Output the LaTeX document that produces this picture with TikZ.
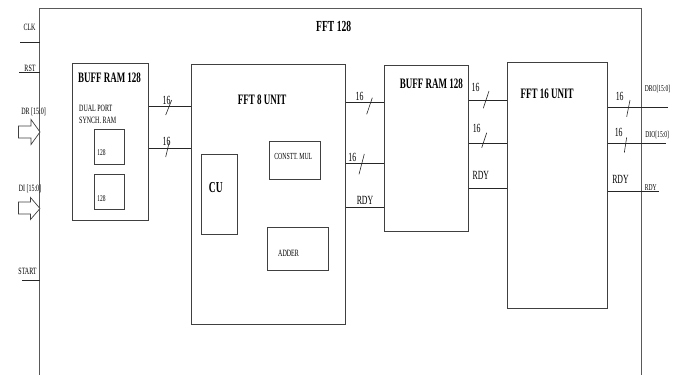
\documentclass[tikz,border=0pt]{standalone}
\usepackage{fontspec}
\setmainfont{Liberation Serif}
\usepackage{graphicx}
\newcommand{\stx}[1]{\scalebox{1}[1.6]{#1}}
\begin{document}
\begin{tikzpicture}[x=1pt,y=-1pt,
  box/.style={draw=black!75, line width=0.9pt, inner sep=0pt, anchor=north west},
  wire/.style={draw=black!85, line width=0.9pt},
  tick/.style={draw=black!85, line width=0.6pt},
  lbl/.style={inner sep=0pt, font=\fontsize{6}{7}\selectfont},
  sig/.style={inner sep=0pt, font=\fontsize{7.8}{9}\selectfont},
  ttl/.style={inner sep=0pt, font=\fontsize{9}{10}\selectfont\bfseries},
  blockarrow/.style={draw=black!75, line width=0.7pt, fill=white}]
\useasboundingbox (0,0) rectangle (678,375);
% outer frame
\coordinate (oBL) at (39.5,375);
\coordinate (oTL) at (39.5,8);
\coordinate (oTR) at (641.5,8);
\coordinate (oBR) at (641.5,375);
\draw[draw=black!65, line width=1pt] (oBL) -- (oTL) -- (oTR) -- (oBR);
\node[ttl, font=\fontsize{9.6}{10}\selectfont\bfseries] (t128) at (333.7,26.7) {\stx{FFT 128}};
% inputs
\node[lbl] (clk) at (29.5,27.3) {\stx{CLK}};
\coordinate (clkL) at (20,42.7);
\draw[wire] (clkL) -- (oTL |- clkL);
\node[lbl] (rst) at (30,68.3) {\stx{RST}};
\coordinate (rstL) at (19,72.7);
\draw[wire] (rstL) -- (oTL |- rstL);
\node[lbl] (dr) at (33.5,111.5) {\stx{DR [15:0]}};
\draw[blockarrow] (18.5,126) -- (31,126) -- (31,119.5) -- (40,132) -- (31,144.5) -- (31,138) -- (18.5,138) -- cycle;
\node[lbl] (di) at (30,189.3) {\stx{DI [15:0]}};
\draw[blockarrow] (18.5,202) -- (30.5,202) -- (30.5,197.5) -- (40,208.5) -- (30.5,219.5) -- (30.5,214) -- (18.5,214) -- cycle;
\node[lbl] (start) at (27.5,271) {\stx{START}};
\coordinate (startL) at (22,280);
\draw[wire] (startL) -- (oTL |- startL);
% BUFF RAM 1
\node[box, minimum width=76.6pt, minimum height=156.7pt] (buff1) at (71.7,63.3) {};
\node[ttl] (buff1t) at (109.5,77.5) {\stx{BUFF RAM 128}};
\node[lbl, anchor=west] (dual) at (79,108.3) {\stx{DUAL PORT}};
\node[lbl, anchor=west] (synch) at (79,120) {\stx{SYNCH. RAM}};
\node[box, minimum width=30pt, minimum height=35pt] (ram1) at (93.7,129) {};
\node[box, minimum width=30pt, minimum height=35pt] (ram2) at (93.7,173.7) {};
\node[lbl, font=\fontsize{5.5}{6}\selectfont, anchor=west] (ram1t) at (97.2,152.7) {\stx{128}};
\node[lbl, font=\fontsize{5.5}{6}\selectfont, anchor=west] (ram2t) at (97.2,199) {\stx{128}};
% FFT 8
\node[box, minimum width=154.3pt, minimum height=260pt] (fft8) at (190.7,64) {};
\node[ttl] (fft8t) at (262.2,99.3) {\stx{FFT 8 UNIT}};
\node[box, minimum width=35.7pt, minimum height=80.3pt] (cu) at (201,153.7) {};
\node[ttl, font=\fontsize{9.5}{10}\selectfont\bfseries] (cut) at (215.8,187.7) {\stx{CU}};
\node[box, minimum width=51pt, minimum height=38pt] (mul) at (269.3,141) {};
\node[lbl, font=\fontsize{5.8}{6}\selectfont] (mult) at (293.3,156.7) {\stx{CONSTT. MUL}};
\node[box, minimum width=61.3pt, minimum height=43.3pt] (adder) at (267,226.7) {};
\node[lbl] (addert) at (288.5,253.3) {\stx{ADDER}};
% BUFF1 -> FFT8
\draw[wire] (buff1.east |- 0,106.7) -- (fft8.west |- 0,106.7);
\draw[wire] (buff1.east |- 0,148) -- (fft8.west |- 0,148);
\node[sig] (l1) at (166.5,100.7) {\stx{16}};
\draw[tick] (165.7,115) -- (171.7,100);
\node[sig] (l2) at (166.5,141.7) {\stx{16}};
\draw[tick] (165.7,157) -- (169.5,141);
% BUFF RAM 2
\node[box, minimum width=83.4pt, minimum height=166pt] (buff2) at (384.3,65) {};
\node[ttl] (buff2t) at (431.3,83.3) {\stx{BUFF RAM 128}};
% FFT8 -> BUFF2
\draw[wire] (fft8.east |- 0,102.7) -- (buff2.west |- 0,102.7);
\draw[wire] (fft8.east |- 0,163.7) -- (buff2.west |- 0,163.7);
\draw[wire] (fft8.east |- 0,207.3) -- (buff2.west |- 0,207.3);
\node[sig] (l3) at (359.5,96.7) {\stx{16}};
\draw[tick] (366.7,114.3) -- (372.3,97.7);
\node[sig] (l4) at (352.3,157.3) {\stx{16}};
\draw[tick] (359,174.3) -- (364.3,154);
\node[sig] (r1) at (365,200) {\stx{RDY}};
% FFT 16
\node[box, minimum width=99.4pt, minimum height=246.6pt] (fft16) at (507.3,61.7) {};
\node[ttl] (fft16t) at (547,94.3) {\stx{FFT 16 UNIT}};
% BUFF2 -> FFT16
\draw[wire] (buff2.east |- 0,100) -- (fft16.west |- 0,100);
\draw[wire] (buff2.east |- 0,143.7) -- (fft16.west |- 0,143.7);
\draw[wire] (buff2.east |- 0,188.3) -- (fft16.west |- 0,188.3);
\node[sig] (l5) at (475.5,87.3) {\stx{16}};
\draw[tick] (483.3,108.3) -- (489,91);
\node[sig] (l6) at (476.7,128.3) {\stx{16}};
\draw[tick] (481.7,147.7) -- (486.7,132.7);
\node[sig] (r2) at (480.8,175) {\stx{RDY}};
% outputs
\coordinate (dro) at (667.7,107.3);
\coordinate (dio) at (665.7,143.7);
\coordinate (rdyo) at (659.3,191.7);
\draw[wire] (fft16.east |- dro) -- (dro);
\draw[wire] (fft16.east |- dio) -- (dio);
\draw[wire] (fft16.east |- rdyo) -- (rdyo);
\node[sig] (l7) at (619.7,96) {\stx{16}};
\draw[tick] (626.7,116.7) -- (630,100);
\node[sig] (l8) at (618.7,132.7) {\stx{16}};
\draw[tick] (624.3,152.7) -- (626.7,137.3);
\node[sig] (r3) at (620.5,179.3) {\stx{RDY}};
\node[lbl, font=\fontsize{5.6}{6}\selectfont] (drot) at (657.5,89) {\stx{DRO[15:0]}};
\node[lbl, font=\fontsize{5.6}{6}\selectfont] (diot) at (657.2,135) {\stx{DIO[15:0]}};
\node[lbl, font=\fontsize{5.6}{6}\selectfont] (rdyot) at (650.8,188) {\stx{RDY}};
\end{tikzpicture}
\end{document}
